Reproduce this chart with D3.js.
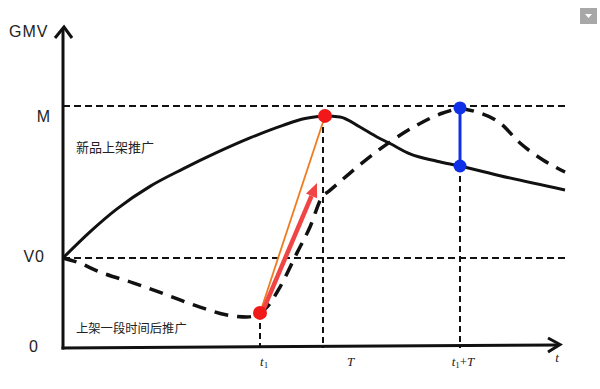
<!DOCTYPE html>
<html>
<head>
<meta charset="utf-8">
<script src="https://cdn.jsdelivr.net/npm/d3@7"></script>
<style>
  body { margin: 0; background: #fff; }
  svg { display: block; }
</style>
</head>
<body>
<div id="chart"></div>
<script>
// time runs 0..100, GMV runs 0..100 (M = 100)
const launchNow = [[0,37.2],[5.4,48],[10.8,57.5],[17.4,66.8],[24,74],[30.8,80.8],[37.4,86.8],[44,92],
  [48.4,94.8],[52.4,95.9],[55.4,95.5],[59.4,91.3],[62.8,87.2],[65.4,84.5],[69.4,80.2],[74.8,77.2],
  [79.4,75.2],[87.4,71.2],[100.4,65.3]];
const launchLater = [[0,37.2],[2.8,35.5],[7.4,31.4],[14,26.9],[20.8,21.9],[27.4,16.9],[32.8,13.6],
  [36.8,12.8],[39.4,14.5],[40.8,16.9],[43.4,25.2],[46.8,39.3],[49.4,50],[51.8,62.4],[53.2,64.8],
  [57.4,72.3],[64,83.1],[70.8,92.1],[76,97.1],[79.4,98.8],[82.8,97.5],[87.4,93],[91.4,84.7],
  [96,77.7],[100.4,72.7]];
const yLevels = [{name: "M", v: 100}, {name: "V0", v: 37.2}, {name: "0", v: 0}];
const t1 = 39.4, T = 52, t1T = 79.4;
const redDots = [[t1, 14.5], [52.4, 95.9]];
const blueDots = [[t1T, 99.2], [t1T, 75.2]];
const vLines = [[t1, 14.5], [T, 95.5], [t1T, 75.2]];

const svg = d3.select("#chart").append("svg")
    .attr("width", 600)
    .attr("height", 389)

const x = d3.scaleLinear().domain([0, 100]).range([63, 563]);
const y = d3.scaleLinear().domain([0, 100]).range([348, 106]);

const line = d3.line().x(d => x(d[0])).y(d => y(d[1])).curve(d3.curveMonotoneX);

// reference dashed lines
svg.selectAll(".hl").data(yLevels.filter(d => d.v > 0)).join("line")
    .attr("x1", x(0)).attr("x2", x(101)).attr("y1", d => y(d.v)).attr("y2", d => y(d.v))
    .attr("stroke", "#111").attr("stroke-width", 2).attr("stroke-dasharray", "7,4")

svg.selectAll(".vl").data(vLines).join("line")
    .attr("x1", d => x(d[0])).attr("x2", d => x(d[0]))
    .attr("y1", d => y(d[1])).attr("y2", y(0))
    .attr("stroke", "#111").attr("stroke-width", 2).attr("stroke-dasharray", "6,4")

// curves
svg.append("path").attr("d", line(launchNow))
    .attr("fill", "none").attr("stroke", "#111").attr("stroke-width", 3)
svg.append("path").attr("d", line(launchLater))
    .attr("fill", "none").attr("stroke", "#111").attr("stroke-width", 3.5)
    .attr("stroke-dasharray", "14,9")

// axes
svg.append("line").attr("x1", x(0)).attr("x2", x(0)).attr("y1", y(0) + 1.5).attr("y2", 28)
    .attr("stroke", "#111").attr("stroke-width", 3)
svg.append("path").attr("d", `M${x(0)-8},38L${x(0)+1},27L${x(0)+9},38`)
    .attr("fill", "none").attr("stroke", "#111").attr("stroke-width", 3)
svg.append("line").attr("x1", x(0) - 1.5).attr("x2", 559).attr("y1", y(0)).attr("y2", y(0) - 3)
    .attr("stroke", "#111").attr("stroke-width", 3)
svg.append("path").attr("d", `M548,${y(0)-10}L560,${y(0)-3.5}L548,${y(0)+4}`)
    .attr("fill", "none").attr("stroke", "#111").attr("stroke-width", 3)

// orange line and red arrow
svg.append("line").attr("x1", x(redDots[0][0])).attr("y1", y(redDots[0][1]))
    .attr("x2", x(redDots[1][0])).attr("y2", y(redDots[1][1]))
    .attr("stroke", "#f07a1e").attr("stroke-width", 1.8)
const a0 = [x(redDots[0][0]) + 2, y(redDots[0][1])], a1 = [317, 183];
const ang = Math.atan2(a1[1] - a0[1], a1[0] - a0[0]);
const back = [a1[0] - 14 * Math.cos(ang), a1[1] - 14 * Math.sin(ang)];
svg.append("line").attr("x1", a0[0]).attr("y1", a0[1]).attr("x2", back[0]).attr("y2", back[1])
    .attr("stroke", "#f04545").attr("stroke-width", 4.5)
const px = -Math.sin(ang), py = Math.cos(ang);
svg.append("path")
    .attr("d", `M${a1[0]},${a1[1]}L${back[0]+6*px},${back[1]+6*py}L${back[0]-6*px},${back[1]-6*py}Z`)
    .attr("fill", "#f04545")

// blue segment
svg.append("line").attr("x1", x(blueDots[0][0])).attr("x2", x(blueDots[1][0]))
    .attr("y1", y(blueDots[0][1])).attr("y2", y(blueDots[1][1]))
    .attr("stroke", "#1030e8").attr("stroke-width", 3)

svg.selectAll(".rd").data(redDots).join("circle")
    .attr("cx", d => x(d[0])).attr("cy", d => y(d[1])).attr("r", 7).attr("fill", "#f01818")
svg.selectAll(".bd").data(blueDots).join("circle")
    .attr("cx", d => x(d[0])).attr("cy", d => y(d[1])).attr("r", 6.5).attr("fill", "#1030e8")

// text
const sans = "Liberation Sans, Arial, sans-serif";
svg.append("text").attr("x", 9).attr("y", 37).text("GMV")
    .attr("font-family", sans).attr("font-size", 16).attr("letter-spacing", 1).attr("fill", "#222")
svg.selectAll(".yl").data(yLevels).join("text")
    .attr("x", 50).attr("y", d => y(d.v) + (d.v === 100 ? 16 : 4))
    .attr("text-anchor", "end").text(d => d.name)
    .attr("font-family", sans).attr("font-size", 16).attr("letter-spacing", 1).attr("fill", "#222")
    .attr("dx", d => d.v === 100 ? 1 : d.v === 0 ? -11 : -5)

const cjk = "Noto Sans CJK SC";
svg.append("text").attr("x", 76).attr("y", 152).text("新品上架推广")
    .attr("font-family", cjk).attr("font-size", 13).attr("fill", "#222")
svg.append("text").attr("x", 76).attr("y", 333).text("上架一段时间后推广")
    .attr("font-family", cjk).attr("font-size", 12.3).attr("fill", "#222")

const serif = "Liberation Serif, Times New Roman, serif";
const tickLabels = [
  {t: t1, parts: [["t", "italic", 0], ["1", "normal", 1]], anchor: "start", dx: 0},
  {t: T, parts: [["T", "italic", 0]], anchor: "start", dx: 24},
  {t: t1T, parts: [["t", "italic", 0], ["1", "normal", 1], ["+", "normal", 0], ["T", "italic", 0]], anchor: "middle", dx: 3},
  {t: 98, parts: [["t", "italic", 0]], anchor: "middle", dx: 4}
];
tickLabels.forEach((tk, i) => {
  const tx = svg.append("text").attr("x", x(tk.t) + tk.dx).attr("y", i === 3 ? 362 : 366)
      .attr("text-anchor", tk.anchor).attr("font-family", serif).attr("font-size", 13).attr("fill", "#222")
  tk.parts.forEach(p => {
    tx.append("tspan").text(p[0]).attr("font-style", p[1])
      .attr("font-size", p[2] ? 9 : 13).attr("dy", p[2] ? 2 : 0)
  })
  // reset baseline after subscript
  tx.selectAll("tspan").filter((d, j) => j > 0 && tk.parts[j - 1][2] && !tk.parts[j][2]).attr("dy", -2)
})

// little grey menu button in the corner
svg.append("rect").attr("x", 580).attr("y", 8).attr("width", 17).attr("height", 16).attr("fill", "#a8a8a8")
svg.append("path").attr("d", "M585,14L592,14L588.5,18Z").attr("fill", "#fff")
</script>
</body>
</html>
